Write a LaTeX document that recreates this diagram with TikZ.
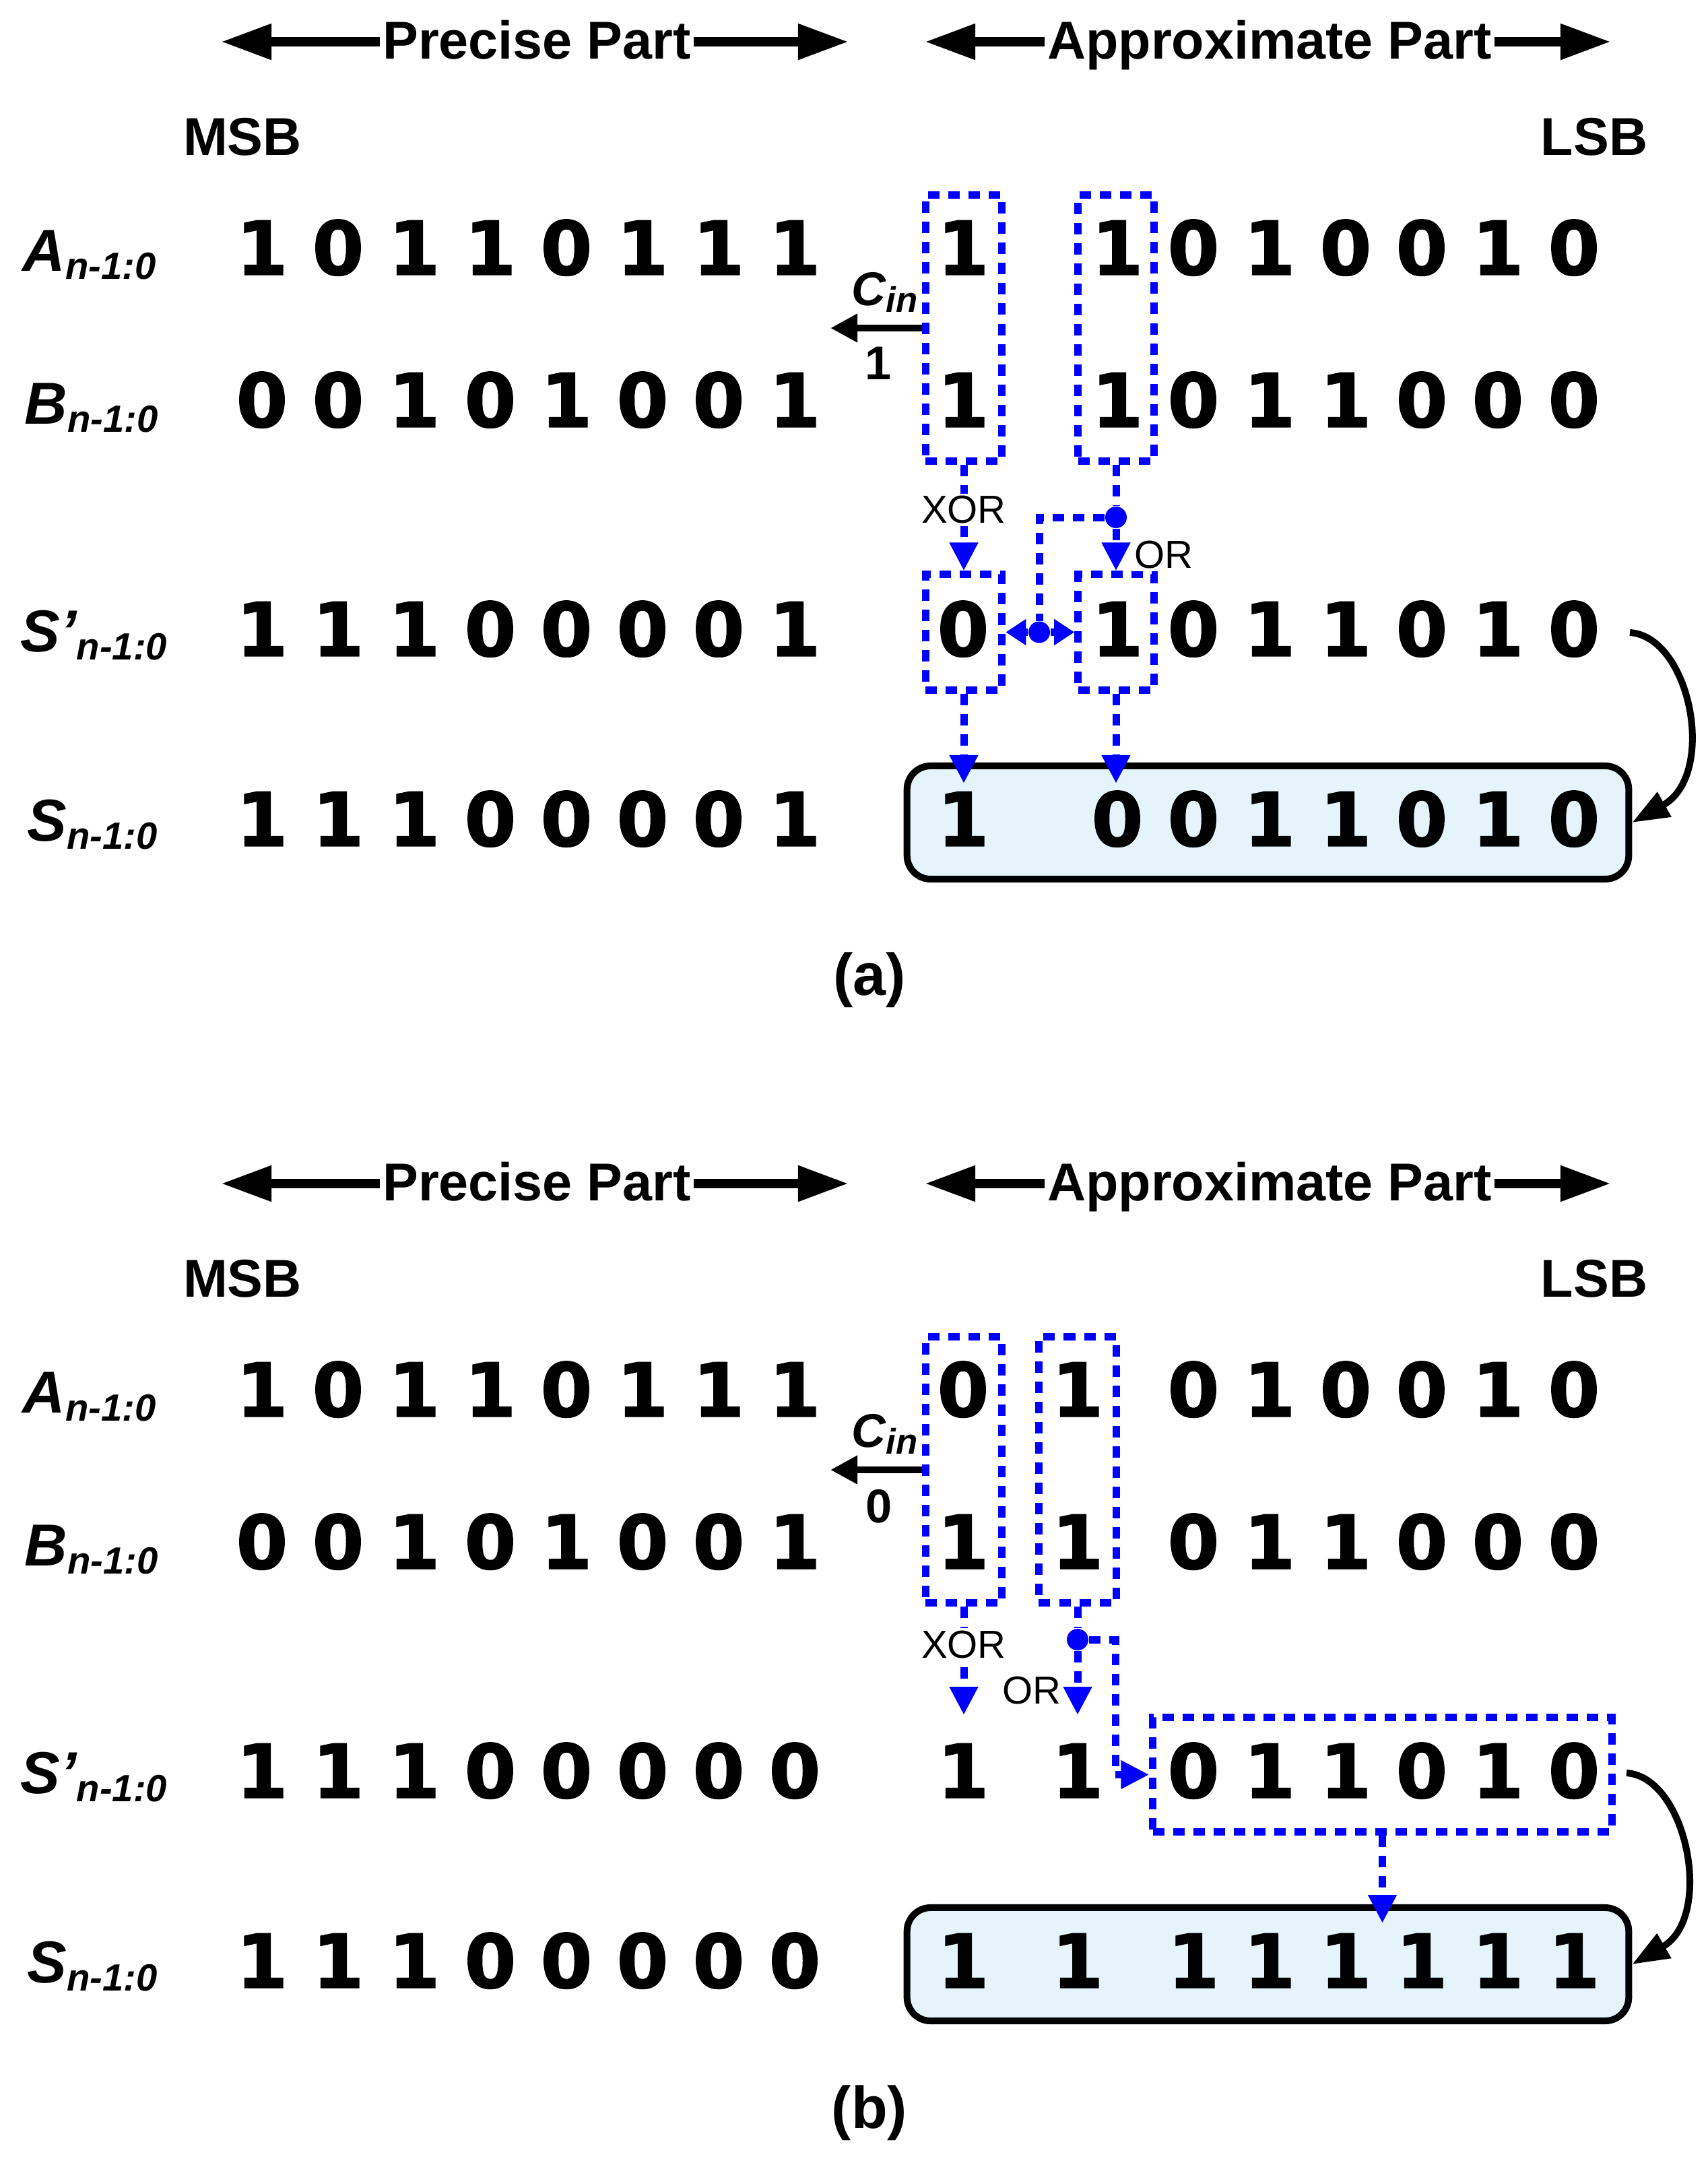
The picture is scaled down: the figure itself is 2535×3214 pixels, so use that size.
\documentclass[tikz,border=0pt]{standalone}
\usepackage{fontspec}
\setmainfont{Liberation Sans}
\newfontfamily\dgfont{DejaVu Sans}[FakeBold=1.2]
\usetikzlibrary{arrows.meta}
\definecolor{sfill}{RGB}{228,244,250}
\definecolor{bblue}{RGB}{0,0,255}
\newcommand\sublab{\fontsize{16}{19}\selectfont\raisebox{-0.12cm}{n-1:0}}
\newcommand\cinsub{\fontsize{15}{18}\selectfont\raisebox{-0.1cm}{in}}
\tikzset{
  bit/.style={font=\dgfont\bfseries\fontsize{31.5}{36}\selectfont, inner sep=0pt, anchor=base},
  rowlab/.style={font=\bfseries\itshape\fontsize{25}{30}\selectfont, inner sep=0pt, anchor=base west},
  hdr/.style={font=\bfseries\fontsize{22.5}{27}\selectfont, inner sep=1pt, anchor=base},
  partarrow/.style={line width=0.14cm, -{Triangle[length=0.75cm,width=0.5cm]}},
  bbox/.style={draw=bblue, line width=0.11cm, dash pattern=on 0.17cm off 0.13cm, inner sep=0pt},
  bcon/.style={draw=bblue, line width=0.11cm, dash pattern=on 0.17cm off 0.13cm},
  btip/.style={-{Triangle[length=0.42cm,width=0.4cm]}},
  bstip/.style={-{Triangle[length=0.3cm,width=0.37cm]}},
  bdot/.style={circle, fill=bblue, minimum size=0.32cm, inner sep=0pt},
  sumbox/.style={draw=black, line width=0.1cm, rounded corners=0.35cm, fill=sfill, inner sep=0pt, minimum width=10.71cm, minimum height=1.68cm},
  oplab/.style={font=\fontsize{16.5}{20}\selectfont, inner sep=1pt, fill=white},
  cinlab/.style={font=\bfseries\itshape\fontsize{20}{24}\selectfont, inner sep=0pt, anchor=base west},
  cinval/.style={font=\bfseries\fontsize{20}{24}\selectfont, inner sep=0pt},
  cinarrow/.style={line width=0.1cm, -{Triangle[length=0.4cm,width=0.4cm]}},
  curvearrow/.style={line width=0.1cm, -{Triangle[length=0.55cm,width=0.4cm]}},
  caplab/.style={font=\bfseries\fontsize{25}{30}\selectfont, inner sep=0pt},
}
\begin{document}
\begin{tikzpicture}[x=0.01cm,y=-0.01cm]
\fill[white] (0,0) rectangle (2535,3214);
\useasboundingbox (0,0) rectangle (2535,3214);

% ================= (a) =================
\node[hdr] (ppA) at (797,87) {Precise Part};
\coordinate (ppAl) at (328,62);
\coordinate (ppAr) at (1260,62);
\draw[partarrow] (ppA.west |- ppAl) -- (ppAl);
\draw[partarrow] (ppA.east |- ppAr) -- (ppAr);
\node[hdr] (apA) at (1885,87) {Approximate Part};
\coordinate (apAl) at (1373,62);
\coordinate (apAr) at (2392,62);
\draw[partarrow] (apA.west |- apAl) -- (apAl);
\draw[partarrow] (apA.east |- apAr) -- (apAr);
\node[hdr] (msbA) at (360,230) {MSB};
\node[hdr] (lsbA) at (2367,230) {LSB};

\node[rowlab] (laA) at (33,402) {A\sublab};
\node[rowlab] (laB) at (36,629) {B\sublab};
\node[rowlab] (laSp) at (30,967) {S'\sublab};
\node[rowlab] (laS) at (40,1248) {S\sublab};

\node[sumbox] (sboxA) at (1882.5,1221) {};

\foreach \x/\d [count=\k] in {389/1,502/0,615/1,728/1,841/0,954/1,1067/1,1180/1}
  \node[bit] (aA\k) at (\x,408) {\d};
\foreach \x/\d [count=\k] in {389/0,502/0,615/1,728/0,841/1,954/0,1067/0,1180/1}
  \node[bit] (aB\k) at (\x,634) {\d};
\foreach \x/\d [count=\k] in {389/1,502/1,615/1,728/0,841/0,954/0,1067/0,1180/1}
  \node[bit] (aSp\k) at (\x,974) {\d};
\foreach \x/\d [count=\k] in {389/1,502/1,615/1,728/0,841/0,954/0,1067/0,1180/1}
  \node[bit] (aS\k) at (\x,1256) {\d};
\foreach \x/\d [count=\k] in {1430/1,1659/1,1772/0,1885/1,1998/0,2111/0,2224/1,2337/0}
  \node[bit] (aAx\k) at (\x,408) {\d};
\foreach \x/\d [count=\k] in {1430/1,1659/1,1772/0,1885/1,1998/1,2111/0,2224/0,2337/0}
  \node[bit] (aBx\k) at (\x,634) {\d};
\foreach \x/\d [count=\k] in {1430/0,1659/1,1772/0,1885/1,1998/1,2111/0,2224/1,2337/0}
  \node[bit] (aSpx\k) at (\x,974) {\d};
\foreach \x/\d [count=\k] in {1430/1,1659/0,1772/0,1885/1,1998/1,2111/0,2224/1,2337/0}
  \node[bit] (aSx\k) at (\x,1256) {\d};

\node[bbox, minimum width=1.135cm, minimum height=3.94cm] (boxAL) at (1431,487) {};
\node[bbox, minimum width=1.125cm, minimum height=3.94cm] (boxAR) at (1657,487) {};
\node[bbox, minimum width=1.135cm, minimum height=1.71cm] (spAL) at (1431,938.5) {};
\node[bbox, minimum width=1.125cm, minimum height=1.71cm] (spAR) at (1657,938.5) {};

\coordinate (cinA) at (1233,487);
\draw[cinarrow] (boxAL.west) -- (cinA);
\node[cinlab] (cinlabA) at (1264,453) {C\cinsub};
\node[cinval] (cinvA) at (1304,539) {1};

\node[bdot] (dotA) at (1657,768) {};
\node[bdot] (dotB) at (1543,938.5) {};
\coordinate (ka) at (1543,768);
\draw[bcon, btip] (boxAL.south) -- (spAL.north);
\draw[bcon] (boxAR.south) -- (dotA);
\draw[bcon, btip] (dotA) -- (spAR.north);
\draw[bcon] (dotA) -- (ka) -- (dotB);
\draw[bcon, bstip] (dotB) -- (spAL.east);
\draw[bcon, bstip] (dotB) -- (spAR.west);
\coordinate (tA1) at (1431,1163);
\coordinate (tA2) at (1657,1163);
\draw[bcon, btip] (spAL.south) -- (tA1);
\draw[bcon, btip] (spAR.south) -- (tA2);
\node[oplab] (xorA) at (1431,757) {XOR};
\node[oplab] (orA) at (1728,824) {OR};

\coordinate (cA) at (2420,939);
\draw[curvearrow] (cA) .. controls (2510,945) and (2550,1150) .. (sboxA.east);

\node[caplab] (capA) at (1291,1455) {(a)};

% ================= (b) =================
\node[hdr] (ppB) at (797,1782) {Precise Part};
\coordinate (ppBl) at (328,1757);
\coordinate (ppBr) at (1260,1757);
\draw[partarrow] (ppB.west |- ppBl) -- (ppBl);
\draw[partarrow] (ppB.east |- ppBr) -- (ppBr);
\node[hdr] (apB) at (1885,1782) {Approximate Part};
\coordinate (apBl) at (1373,1757);
\coordinate (apBr) at (2392,1757);
\draw[partarrow] (apB.west |- apBl) -- (apBl);
\draw[partarrow] (apB.east |- apBr) -- (apBr);
\node[hdr] (msbB) at (360,1925) {MSB};
\node[hdr] (lsbB) at (2367,1925) {LSB};

\node[rowlab] (lbA) at (33,2097) {A\sublab};
\node[rowlab] (lbB) at (36,2324) {B\sublab};
\node[rowlab] (lbSp) at (30,2662) {S'\sublab};
\node[rowlab] (lbS) at (40,2943) {S\sublab};

\node[sumbox] (sboxB) at (1882.5,2916) {};

\foreach \x/\d [count=\k] in {389/1,502/0,615/1,728/1,841/0,954/1,1067/1,1180/1}
  \node[bit] (bA\k) at (\x,2103) {\d};
\foreach \x/\d [count=\k] in {389/0,502/0,615/1,728/0,841/1,954/0,1067/0,1180/1}
  \node[bit] (bB\k) at (\x,2329) {\d};
\foreach \x/\d [count=\k] in {389/1,502/1,615/1,728/0,841/0,954/0,1067/0,1180/0}
  \node[bit] (bSp\k) at (\x,2669) {\d};
\foreach \x/\d [count=\k] in {389/1,502/1,615/1,728/0,841/0,954/0,1067/0,1180/0}
  \node[bit] (bS\k) at (\x,2951) {\d};
\foreach \x/\d [count=\k] in {1430/0,1600/1,1772/0,1885/1,1998/0,2111/0,2224/1,2337/0}
  \node[bit] (bAx\k) at (\x,2103) {\d};
\foreach \x/\d [count=\k] in {1430/1,1600/1,1772/0,1885/1,1998/1,2111/0,2224/0,2337/0}
  \node[bit] (bBx\k) at (\x,2329) {\d};
\foreach \x/\d [count=\k] in {1430/1,1600/1,1772/0,1885/1,1998/1,2111/0,2224/1,2337/0}
  \node[bit] (bSpx\k) at (\x,2669) {\d};
\foreach \x/\d [count=\k] in {1430/1,1600/1,1772/1,1885/1,1998/1,2111/1,2224/1,2337/1}
  \node[bit] (bSx\k) at (\x,2951) {\d};

\node[bbox, minimum width=1.135cm, minimum height=3.94cm] (boxBL) at (1431,2182) {};
\node[bbox, minimum width=1.15cm, minimum height=3.94cm] (boxBR) at (1600,2182) {};
\node[bbox, minimum width=6.81cm, minimum height=1.69cm] (bigB) at (2052.5,2634.5) {};

\coordinate (cinB) at (1233,2182);
\draw[cinarrow] (boxBL.west) -- (cinB);
\node[cinlab] (cinlabB) at (1264,2148) {C\cinsub};
\node[cinval] (cinvB) at (1305,2236) {0};

\node[bdot] (dotC) at (1600,2434) {};
\coordinate (kb) at (1656,2434);
\coordinate (tB1) at (1431,2546);
\coordinate (tB2) at (1600,2546);
\coordinate (tB3) at (2052.5,2855);
\draw[bcon, btip] (boxBL.south) -- (tB1);
\draw[bcon] (boxBR.south) -- (dotC);
\draw[bcon, btip] (dotC) -- (tB2);
\draw[bcon, btip] (dotC) -- (kb) |- (bigB.west);
\draw[bcon, btip] (bigB.south) -- (tB3);
\node[oplab] (xorB) at (1431,2441) {XOR};
\node[oplab] (orB) at (1532,2509) {OR};

\coordinate (cB) at (2415,2632);
\draw[curvearrow] (cB) .. controls (2505,2638) and (2545,2846) .. (sboxB.east);

\node[caplab] (capB) at (1291,3137) {(b)};
\end{tikzpicture}
\end{document}
